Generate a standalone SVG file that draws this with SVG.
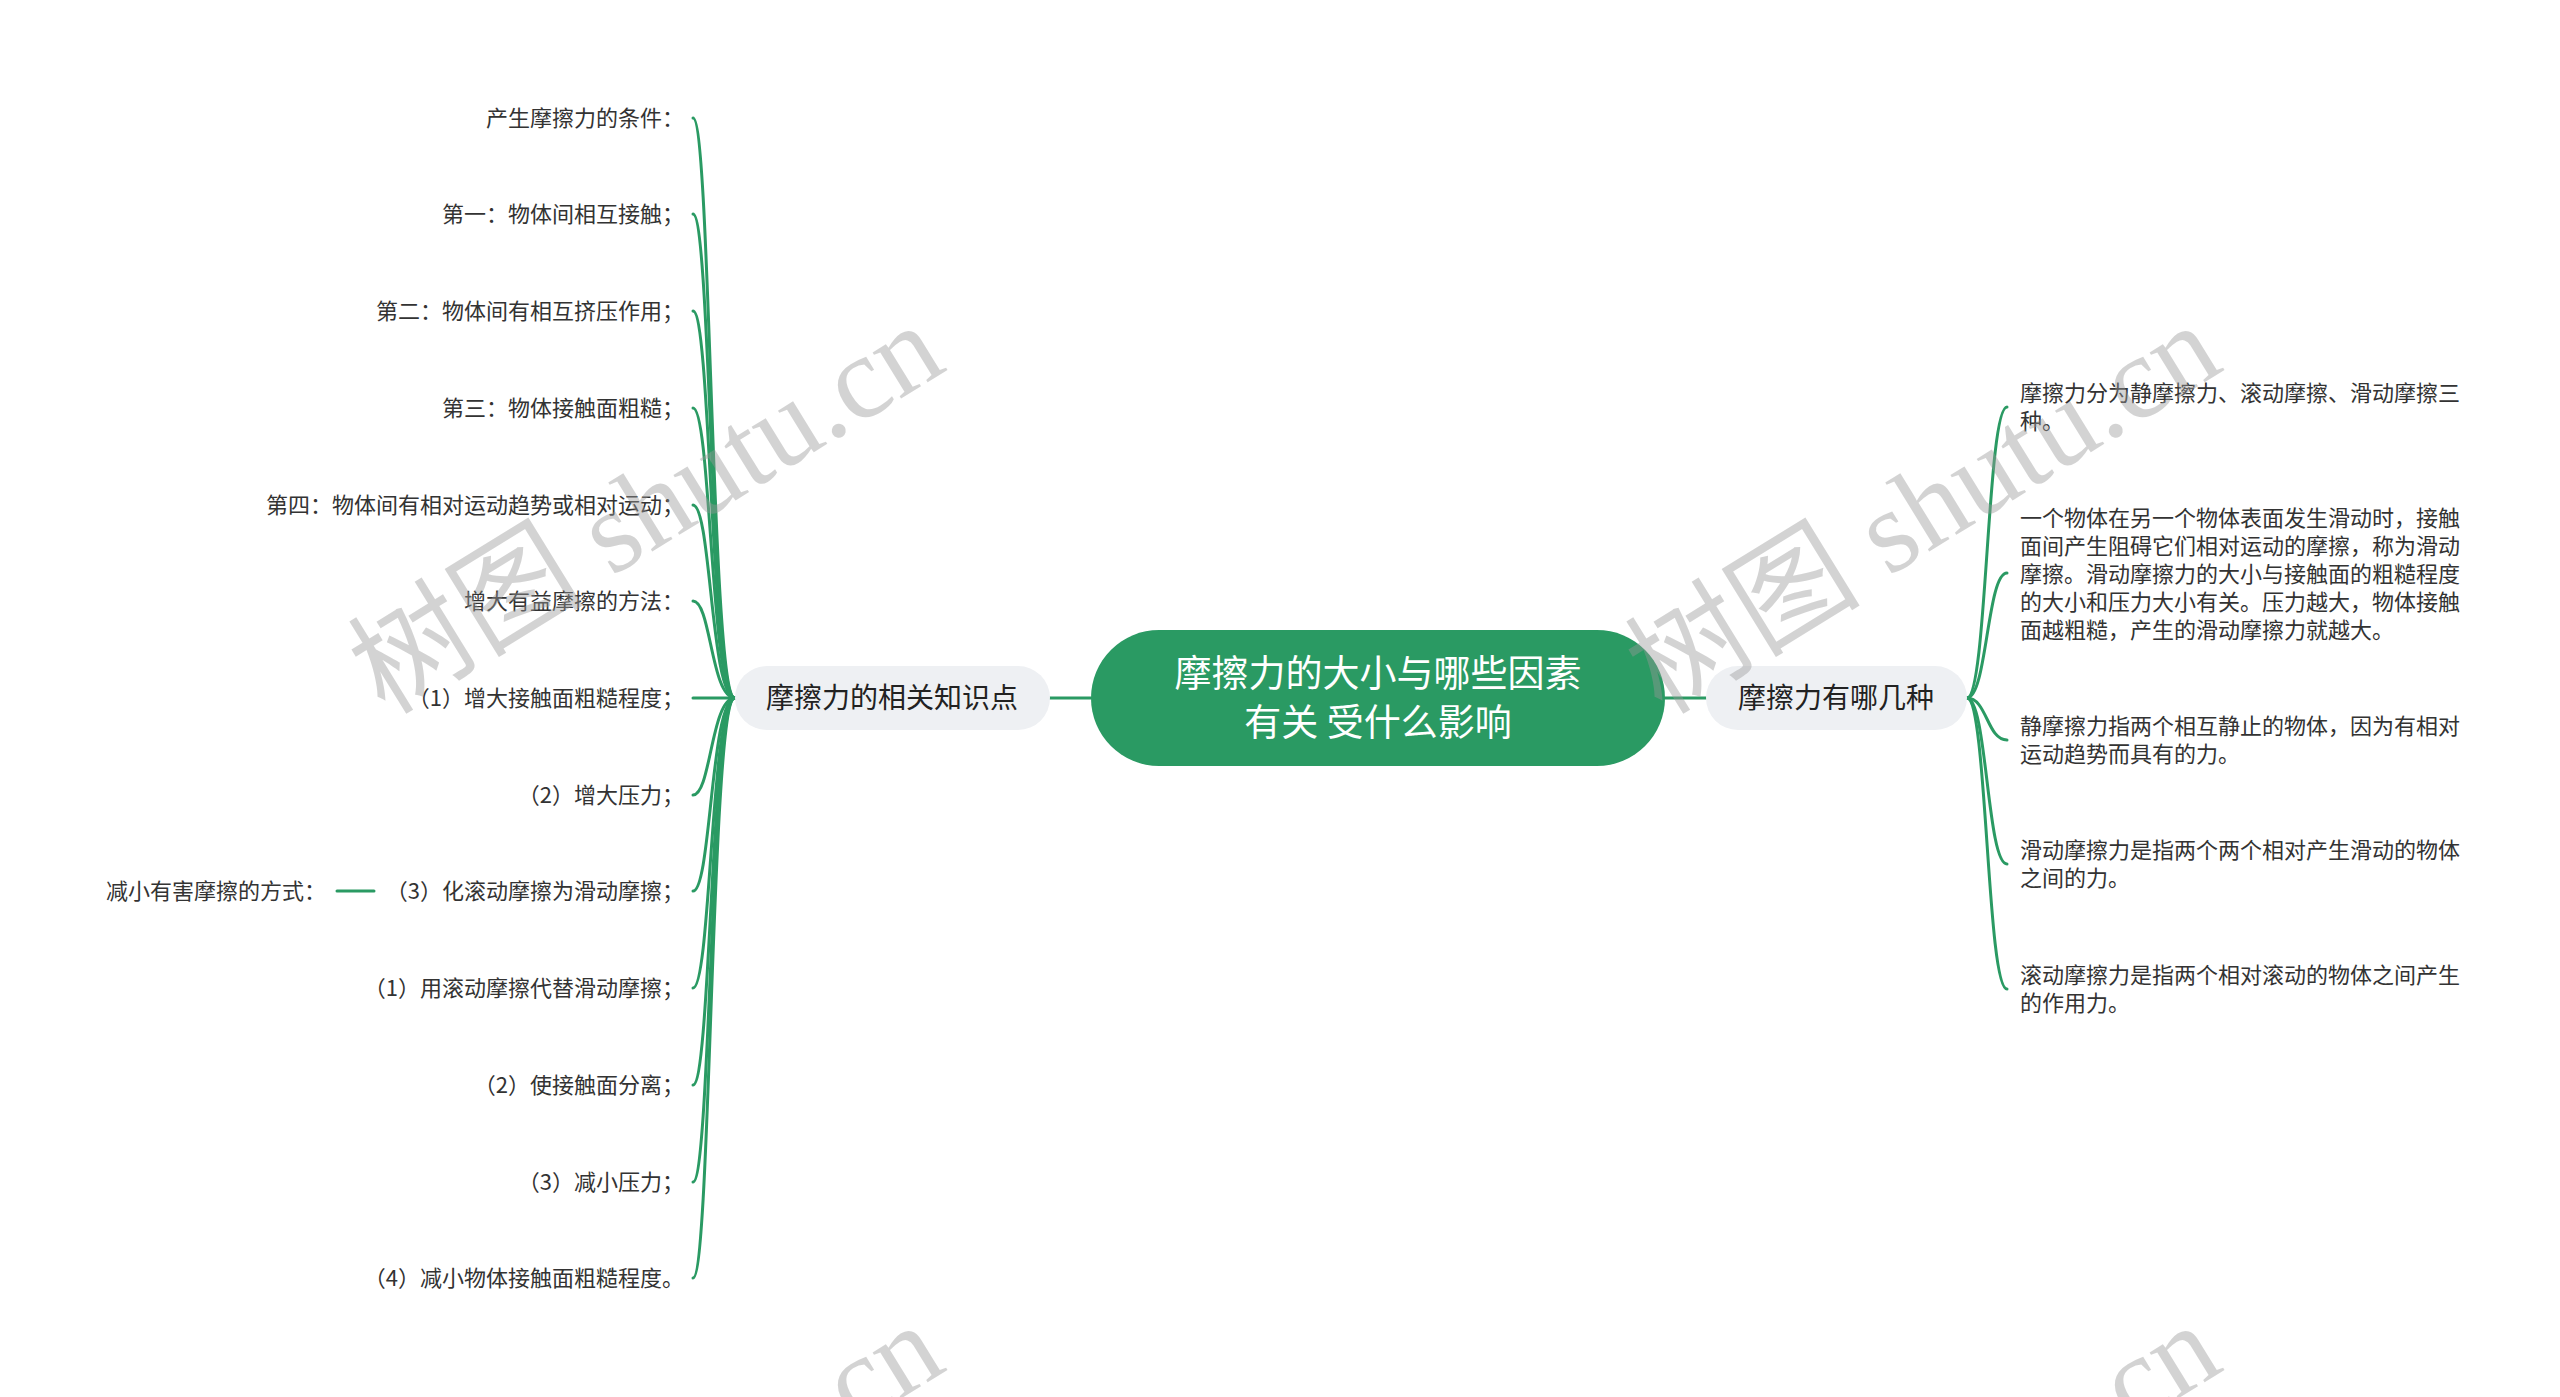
<svg xmlns="http://www.w3.org/2000/svg" width="2560" height="1397" viewBox="0 0 2560 1397">
<style>
.t{font-family:"Noto Sans CJK SC","Noto Sans",sans-serif;font-size:22px;fill:#333}
.e{text-anchor:end}
.m{font-family:"Noto Sans CJK SC","Noto Sans",sans-serif;font-size:28px;fill:#222;text-anchor:middle}
.r{font-family:"Noto Sans CJK SC","Noto Sans",sans-serif;font-size:37px;fill:#fff;text-anchor:middle}
.c{fill:none;stroke:#2a9a63;stroke-width:3;stroke-linecap:round}
.w{font-family:"Liberation Serif","Noto Sans CJK SC",serif;font-size:118px;fill:#999;opacity:0.42}
</style>
<rect width="2560" height="1397" fill="#fff"/>
<g id="connectors">
<path class="c" d="M1091,698 H1050"/>
<path class="c" d="M1665,698 H1706"/>
<path class="c" d="M735,698 C711,698 711,118 693,118"/>
<path class="c" d="M735,698 C711,698 711,214 693,214"/>
<path class="c" d="M735,698 C711,698 711,311 693,311"/>
<path class="c" d="M735,698 C711,698 711,408 693,408"/>
<path class="c" d="M735,698 C711,698 711,505 693,505"/>
<path class="c" d="M735,698 C711,698 711,601 693,601"/>
<path class="c" d="M735,698 H693"/>
<path class="c" d="M735,698 C711,698 711,795 693,795"/>
<path class="c" d="M735,698 C711,698 711,891 693,891"/>
<path class="c" d="M735,698 C711,698 711,988 693,988"/>
<path class="c" d="M735,698 C711,698 711,1085 693,1085"/>
<path class="c" d="M735,698 C711,698 711,1182 693,1182"/>
<path class="c" d="M735,698 C711,698 711,1278 693,1278"/>
<path class="c" d="M374,891 H337"/>
<path class="c" d="M1967,698 C1987,698 1987,407 2007,407"/>
<path class="c" d="M1967,698 C1987,698 1987,573 2007,573"/>
<path class="c" d="M1967,698 C1987,698 1987,740 2007,740"/>
<path class="c" d="M1967,698 C1987,698 1987,864 2007,864"/>
<path class="c" d="M1967,698 C1987,698 1987,989 2007,989"/>
</g>
<g id="root">
<rect x="1091" y="630" width="574" height="136" rx="68" fill="#2a9a63"/>
<text class="r" x="1378" y="687">摩擦力的大小与哪些因素</text>
<text class="r" x="1378" y="736">有关 受什么影响</text>
</g>
<g id="left-main">
<rect x="735" y="666" width="315" height="64" rx="32" fill="#eef0f3"/>
<text class="m" x="892" y="708">摩擦力的相关知识点</text>
</g>
<g id="right-main">
<rect x="1706" y="666" width="261" height="64" rx="32" fill="#eef0f3"/>
<text class="m" x="1836" y="708">摩擦力有哪几种</text>
</g>
<g id="l1"><text class="t e" x="684" y="126">产生摩擦力的条件：</text></g>
<g id="l2"><text class="t e" x="684" y="222">第一：物体间相互接触；</text></g>
<g id="l3"><text class="t e" x="684" y="319">第二：物体间有相互挤压作用；</text></g>
<g id="l4"><text class="t e" x="684" y="416">第三：物体接触面粗糙；</text></g>
<g id="l5"><text class="t e" x="684" y="513">第四：物体间有相对运动趋势或相对运动；</text></g>
<g id="l6"><text class="t e" x="684" y="609">增大有益摩擦的方法：</text></g>
<g id="l7"><text class="t e" x="684" y="706">（1）增大接触面粗糙程度；</text></g>
<g id="l8"><text class="t e" x="684" y="803">（2）增大压力；</text></g>
<g id="l9"><text class="t e" x="684" y="899">（3）化滚动摩擦为滑动摩擦；</text></g>
<g id="l9a"><text class="t e" x="326" y="899">减小有害摩擦的方式：</text></g>
<g id="l10"><text class="t e" x="684" y="996">（1）用滚动摩擦代替滑动摩擦；</text></g>
<g id="l11"><text class="t e" x="684" y="1093">（2）使接触面分离；</text></g>
<g id="l12"><text class="t e" x="684" y="1190">（3）减小压力；</text></g>
<g id="l13"><text class="t e" x="684" y="1286">（4）减小物体接触面粗糙程度。</text></g>
<g id="r1"><text class="t" x="2020" y="401">摩擦力分为静摩擦力、滚动摩擦、滑动摩擦三</text><text class="t" x="2020" y="429">种。</text></g>
<g id="r2"><text class="t" x="2020" y="526">一个物体在另一个物体表面发生滑动时，接触</text><text class="t" x="2020" y="554">面间产生阻碍它们相对运动的摩擦，称为滑动</text><text class="t" x="2020" y="582">摩擦。滑动摩擦力的大小与接触面的粗糙程度</text><text class="t" x="2020" y="610">的大小和压力大小有关。压力越大，物体接触</text><text class="t" x="2020" y="638">面越粗糙，产生的滑动摩擦力就越大。</text></g>
<g id="r3"><text class="t" x="2020" y="734">静摩擦力指两个相互静止的物体，因为有相对</text><text class="t" x="2020" y="762">运动趋势而具有的力。</text></g>
<g id="r4"><text class="t" x="2020" y="858">滑动摩擦力是指两个两个相对产生滑动的物体</text><text class="t" x="2020" y="886">之间的力。</text></g>
<g id="r5"><text class="t" x="2020" y="983">滚动摩擦力是指两个相对滚动的物体之间产生</text><text class="t" x="2020" y="1011">的作用力。</text></g>
<g id="watermark">
<text class="w" x="385" y="716" transform="rotate(-31.6 385 716)">树图 shutu.cn</text>
<text class="w" x="1662" y="716" transform="rotate(-31.6 1662 716)">树图 shutu.cn</text>
<text class="w" x="385" y="1716" transform="rotate(-31.6 385 1716)">树图 shutu.cn</text>
<text class="w" x="1662" y="1716" transform="rotate(-31.6 1662 1716)">树图 shutu.cn</text>
</g>
</svg>
